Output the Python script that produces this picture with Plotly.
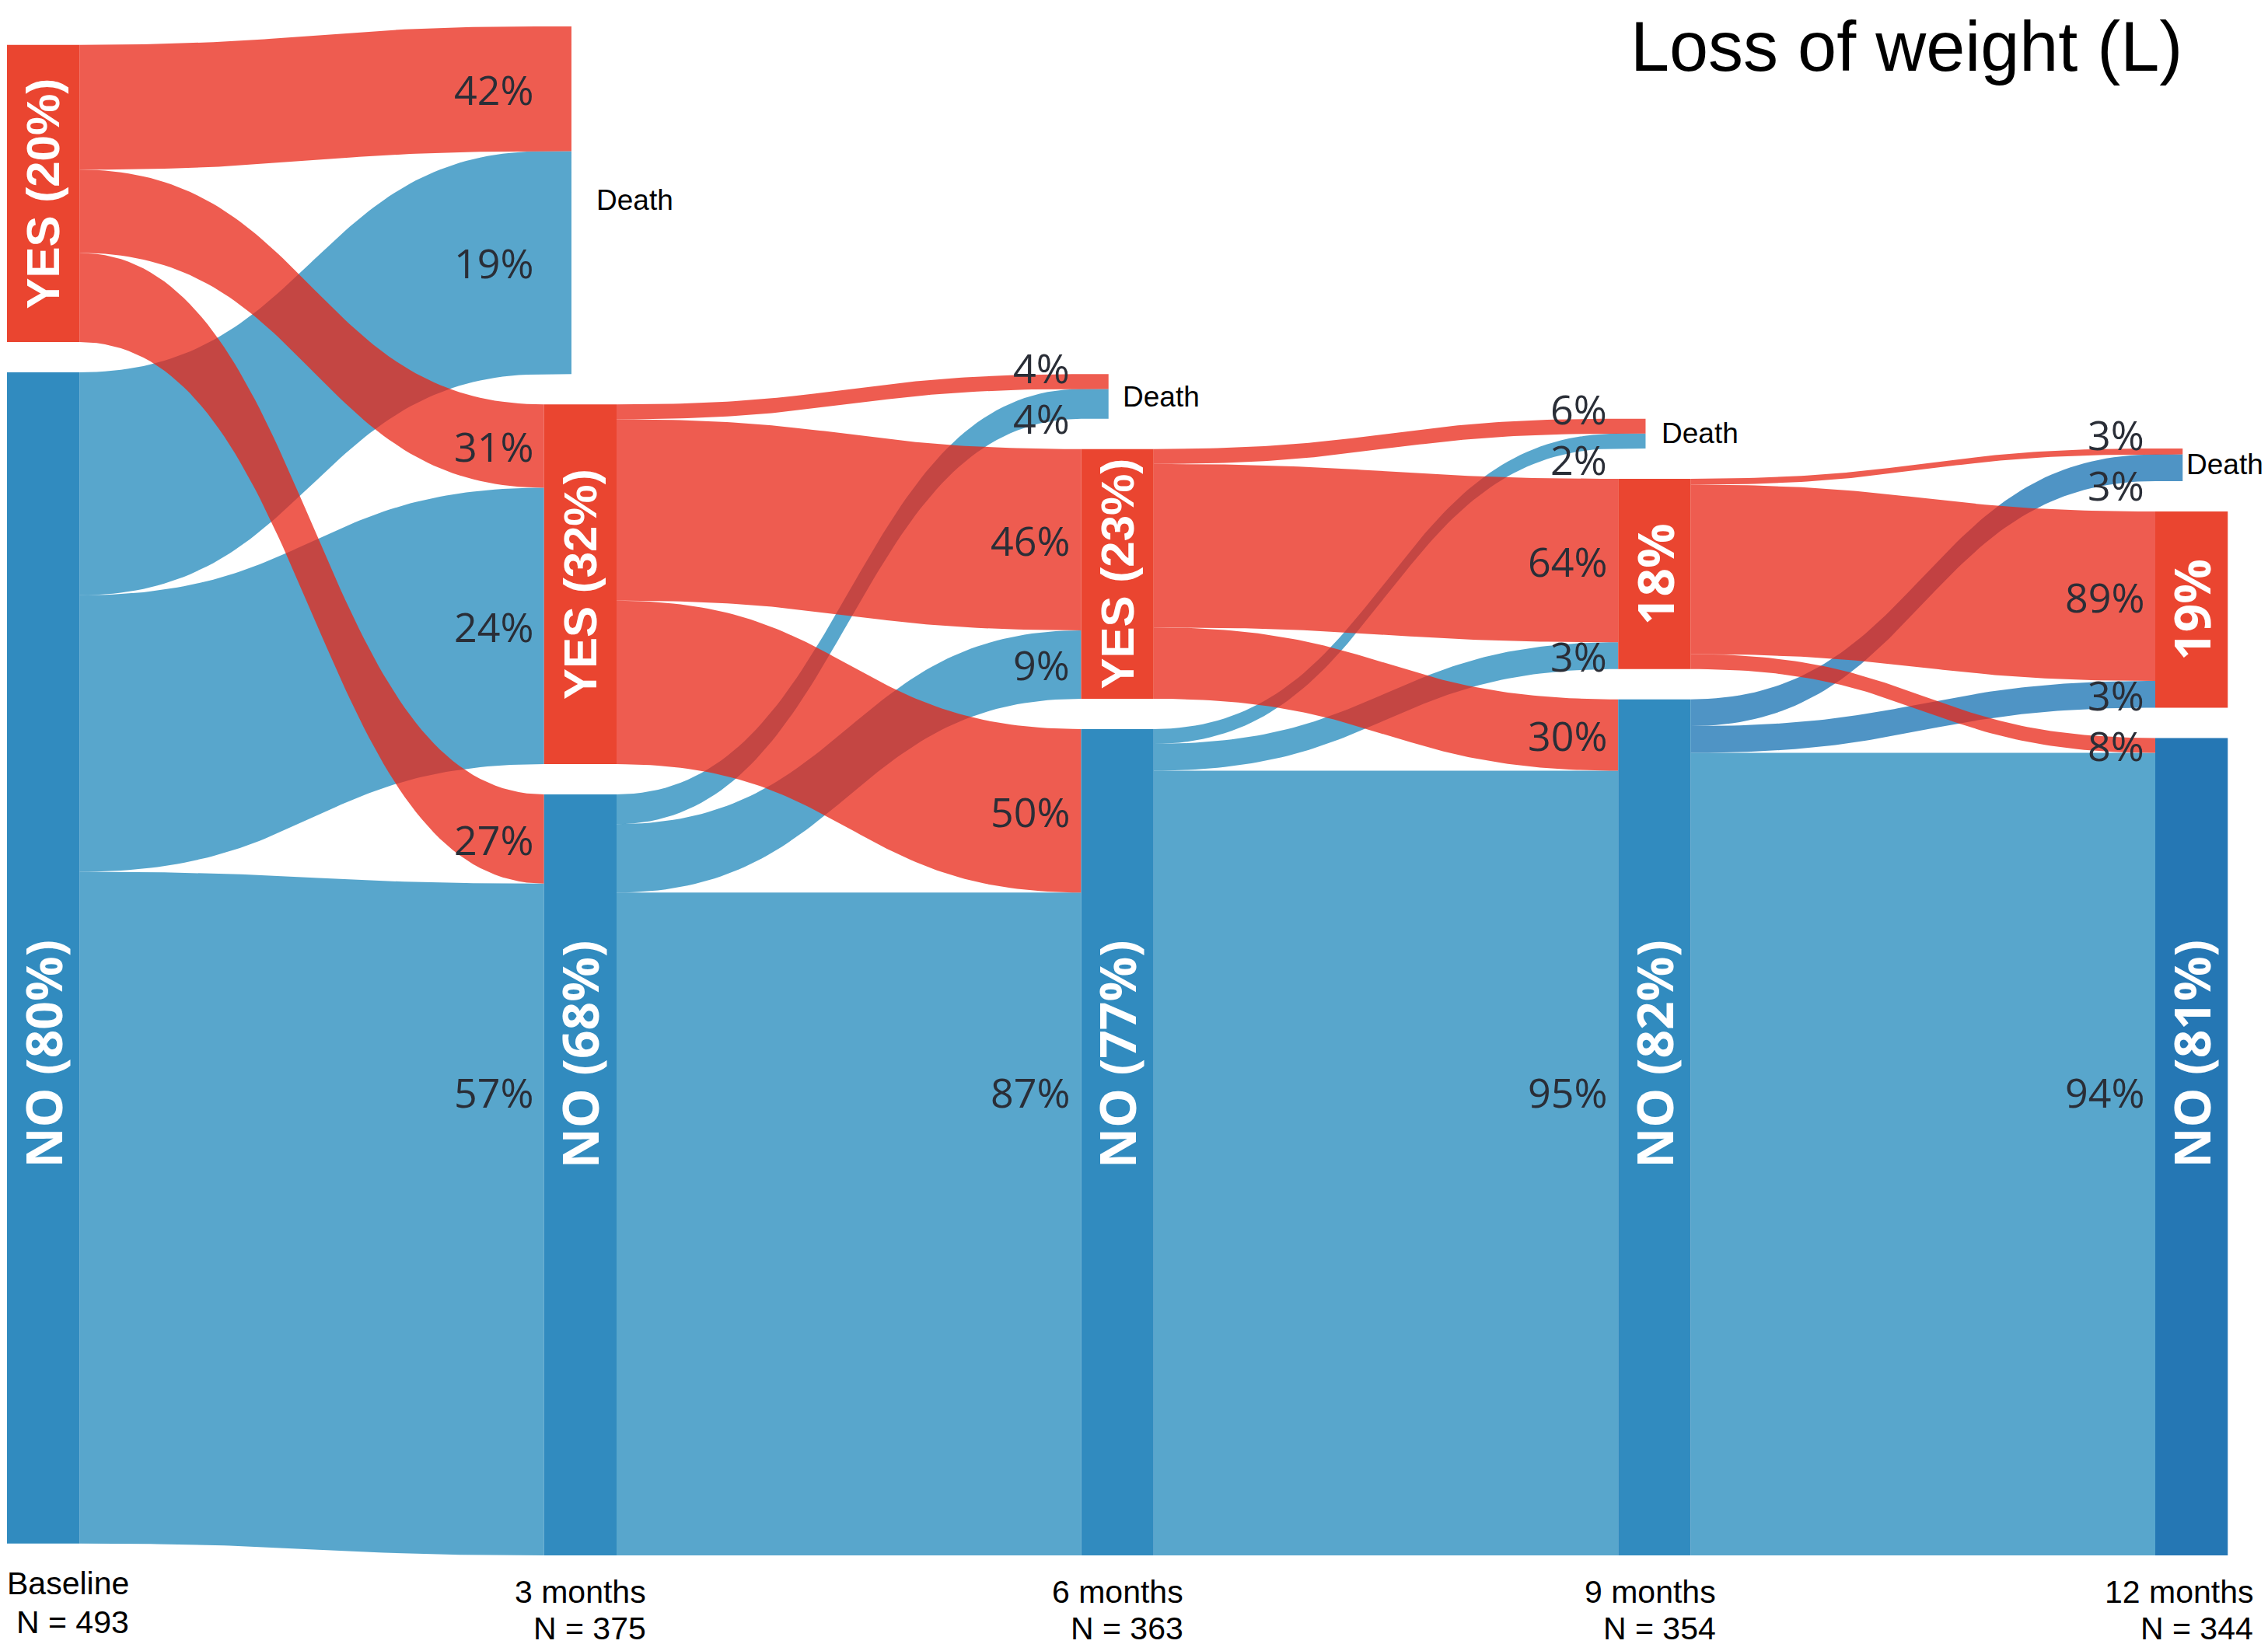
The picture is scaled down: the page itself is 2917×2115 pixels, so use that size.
import plotly.graph_objects as go
import numpy as np

# time points and number of patients still followed
stages = ["Baseline", "3 months", "6 months", "9 months", "12 months"]
stage_n = [493, 375, 363, 354, 344]

# patients with / without loss of weight at baseline
baseline_yes = 100
baseline_no = 394

# flows between consecutive time points, per source state -> [Death, YES, NO]
flow_from_yes = [[42, 28, 30], [5, 61, 55], [5, 55, 24], [2, 57, 5]]
flow_from_no = [[75, 93, 226], [10, 23, 223], [5, 9, 264], [9, 9, 270]]

# percentages printed at the end of each flow
label_from_yes = [["42%", "31%", "27%"], ["4%", "46%", "50%"], ["6%", "64%", "30%"], ["3%", "89%", "8%"]]
label_from_no = [["19%", "24%", "57%"], ["4%", "9%", "87%"], ["2%", "3%", "95%"], ["3%", "3%", "94%"]]

# node labels
yes_labels = ["YES (20%)", "YES (32%)", "YES (23%)", "18%", "19%"]
no_labels = ["NO (80%)", "NO (68%)", "NO (77%)", "NO (82%)", "NO (81%)"]

# layout settings (x in columns, y in patients)
NODE_W = 0.135
DEATH_EXT = 0.051
GAP = 10.2
BASE = [4.0, 0, 0, 0, 0]
NO_LABEL_Y = 168.7
NO_LINK_LABEL_Y = 156
MIN_SEP = 17
DEATH_PAD = [0, 0.043, 0.023, 0.0275, 0.004]
STAGE_PAD = [0.095, 0.058, 0.058, 0.05, 0.05]
STAGE_LINE_Y = [(-9.4, -22.5), (-12.3, -24.6), (-12.3, -24.6), (-12.3, -24.6), (-12.3, -24.6)]

# pixel geometry of the page (the page body adds an 8px margin)
W, H = 2917, 2115
PAGE_OFFSET = 8
COL_PX = 690.75
X0_PX = 9
PX_PER_PERSON = 3.824
Y0_PX = 2001

RED_NODE = "#EA4530"
BLUE_NODE = "#318BBF"
BLUE_NODE_LAST = "#2577B4"
RED_LINK = "rgba(232,37,21,0.75)"
BLUE_LINK = "rgba(32,136,187,0.75)"
BLUE_LINK_DARK = "rgba(20,112,178,0.75)"

# node sizes
yes = [baseline_yes]
no = [baseline_no]
death = [0]
for fy, fn in zip(flow_from_yes, flow_from_no):
    death.append(fy[0] + fn[0])
    yes.append(fy[1] + fn[1])
    no.append(fy[2] + fn[2])

# node positions, stacked from the bottom: NO, YES, Death
nodes = []
for i in range(len(stages)):
    no_rng = (BASE[i], BASE[i] + no[i])
    yes_rng = (no_rng[1] + GAP, no_rng[1] + GAP + yes[i])
    d_rng = (yes_rng[1] + GAP, yes_rng[1] + GAP + death[i])
    nodes.append({"NO": no_rng, "YES": yes_rng, "D": d_rng})


def ribbon(x0, x1, y0a, y0b, y1a, y1b, ext=0.0):
    t = np.linspace(0, 1, 80)
    xs = x0 + (x1 - x0) * (1.5 * t * (1 - t) + t ** 3)
    s = 3 * t ** 2 - 2 * t ** 3
    top = y0a + (y1a - y0a) * s
    bot = y0b + (y1b - y0b) * s
    xs_all = list(xs) + [x1 + ext, x1 + ext] + list(xs[::-1])
    ys_all = list(top) + [y1a, y1b] + list(bot[::-1])
    return xs_all, ys_all


fig = go.Figure()
blue_traces, red_traces = [], []
link_labels = []

for i in range(len(flow_from_yes)):
    targets = ["D", "YES", "NO"]
    # inflow cursors at the target column (filled from the top)
    cursor_in = {k: nodes[i + 1][k][1] for k in targets}
    for src, flows, labels in (("YES", flow_from_yes[i], label_from_yes[i]),
                               ("NO", flow_from_no[i], label_from_no[i])):
        cursor_out = nodes[i][src][1]
        for k, v, lab in zip(targets, flows, labels):
            y0a, y0b = cursor_out, cursor_out - v
            y1a, y1b = cursor_in[k], cursor_in[k] - v
            cursor_out -= v
            cursor_in[k] -= v
            ext = DEATH_EXT if k == "D" else 0.0
            xs, ys = ribbon(i + NODE_W, i + 1, y0a, y0b, y1a, y1b, ext)
            if src == "YES":
                color = RED_LINK
            elif i == len(flow_from_yes) - 1 and k != "NO":
                color = BLUE_LINK_DARK
            else:
                color = BLUE_LINK
            tr = go.Scatter(x=xs, y=ys, fill="toself", fillcolor=color, mode="lines",
                            line=dict(width=0), hoverinfo="skip", showlegend=False)
            (red_traces if src == "YES" else blue_traces).append(tr)
            ly = (y1a + y1b) / 2
            if src == "NO" and k == "NO":
                ly = NO_LINK_LABEL_Y
            link_labels.append({"col": i + 1, "k": k, "src": src, "y": ly, "text": lab})

for tr in blue_traces + red_traces:
    fig.add_trace(tr)

# spread the two small labels at each Death node
for col in range(1, len(stages)):
    pair = [l for l in link_labels if l["col"] == col and l["k"] == "D"]
    pair.sort(key=lambda l: -l["y"])
    if len(pair) == 2 and pair[0]["y"] - pair[1]["y"] < MIN_SEP:
        mid = (pair[0]["y"] + pair[1]["y"]) / 2
        pair[0]["y"] = mid + MIN_SEP / 2
        pair[1]["y"] = mid - MIN_SEP / 2

# nodes
for i in range(len(stages)):
    for k, col in (("YES", RED_NODE), ("NO", BLUE_NODE_LAST if i == len(stages) - 1 else BLUE_NODE)):
        y0, y1 = nodes[i][k]
        fig.add_trace(go.Scatter(x=[i, i + NODE_W, i + NODE_W, i, i], y=[y0, y0, y1, y1, y0],
                                 fill="toself", fillcolor=col, mode="lines", line=dict(width=0),
                                 hoverinfo="skip", showlegend=False))

annotations = []
for l in link_labels:
    annotations.append(dict(x=l["col"] - 0.0174, y=l["y"], xref="x", yref="y", text=l["text"],
                            showarrow=False, xanchor="right", yanchor="middle",
                            font=dict(family="Open Sans", size=52, color="#2a2e37")))

for i in range(len(stages)):
    yc = sum(nodes[i]["YES"]) / 2
    is_yes = yes_labels[i].startswith("YES")
    annotations.append(dict(x=i + NODE_W / 2, y=yc, xref="x", yref="y", text="<b>" + yes_labels[i] + "</b>",
                            showarrow=False, textangle=-90, xanchor="center", yanchor="middle",
                            font=dict(family="Liberation Sans" if is_yes else "Open Sans",
                                      size=60 if is_yes else 64, color="white")))
    annotations.append(dict(x=i + NODE_W / 2, y=NO_LABEL_Y, xref="x", yref="y", text="<b>" + no_labels[i] + "</b>",
                            showarrow=False, textangle=-90, xanchor="center", yanchor="middle",
                            font=dict(family="Open Sans", size=64, color="white")))
    if death[i] > 0:
        annotations.append(dict(x=i + DEATH_EXT + DEATH_PAD[i], y=sum(nodes[i]["D"]) / 2, xref="x", yref="y",
                                text="Death", showarrow=False, xanchor="left", yanchor="middle",
                                font=dict(family="Liberation Sans", size=37, color="black")))
    # stage name and N, right-aligned under each column
    for text, ly in zip([stages[i], "N = " + str(stage_n[i])], STAGE_LINE_Y[i]):
        annotations.append(dict(x=i + NODE_W + STAGE_PAD[i], y=ly, xref="x", yref="y", text=text,
                                showarrow=False, xanchor="right", yanchor="middle",
                                font=dict(family="Liberation Sans", size=41, color="black")))

annotations.append(dict(x=(2809 - PAGE_OFFSET) / W, y=1.0, xref="paper", yref="paper",
                        text="Loss of weight (L)", showarrow=False, xanchor="right", yanchor="top",
                        font=dict(family="Liberation Sans", size=90, color="black")))

x_range = [(PAGE_OFFSET - X0_PX) / COL_PX, (W + PAGE_OFFSET - X0_PX) / COL_PX]
y_range = [(Y0_PX - PAGE_OFFSET - H) / PX_PER_PERSON, (Y0_PX - PAGE_OFFSET) / PX_PER_PERSON]

fig.update_layout(
    width=W, height=H,
    margin=dict(l=0, r=0, t=0, b=0),
    plot_bgcolor="white", paper_bgcolor="white",
    showlegend=False,
    annotations=annotations,
    xaxis=dict(range=x_range, visible=False, fixedrange=True),
    yaxis=dict(range=y_range, visible=False, fixedrange=True),
)

fig.write_html("out.html")
